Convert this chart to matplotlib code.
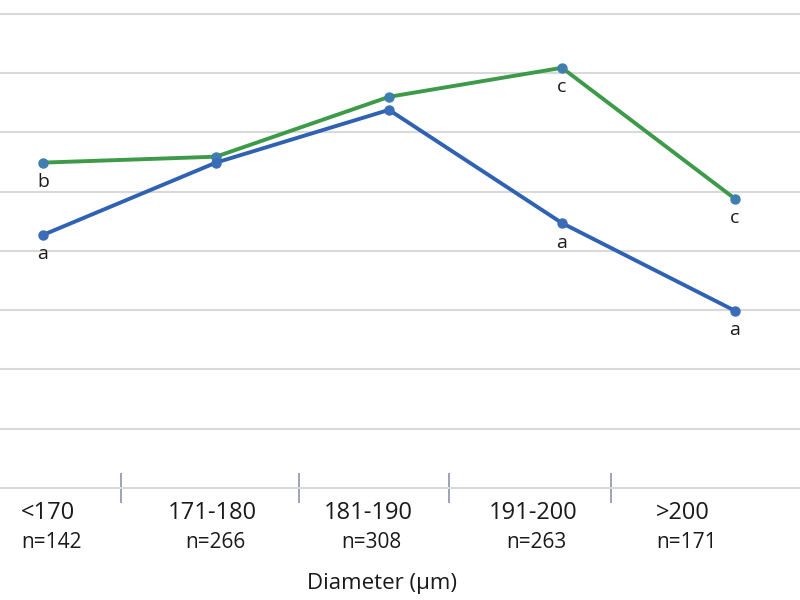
import matplotlib.pyplot as plt

plt.rcParams['font.family'] = ['Open Sans', 'DejaVu Sans']

categories = ["<170", "171-180", "181-190", "191-200", ">200"]
counts = ["n=142", "n=266", "n=308", "n=263", "n=171"]
blue_vals = [4.27, 5.49, 6.38, 4.47, 2.99]
green_vals = [5.49, 5.59, 6.60, 7.09, 4.88]
# significance letters under each point
blue_letters = ["a", None, None, "a", "a"]
green_letters = ["b", None, None, "c", "c"]

fig = plt.figure(figsize=(8, 6), dpi=100)
ax = fig.add_axes([0, 112 / 600, 1, 486 / 600])

x = list(range(len(categories)))
ax.plot(x, blue_vals, color="#2f62b3", lw=2.8, marker="o", ms=6.5,
        mfc="#3b6cb8", mec="#3b6cb8", zorder=3)
ax.plot(x, green_vals, color="#3d9a48", lw=2.8, marker="o", ms=6.5,
        mfc="#3f7fae", mec="#3f7fae", zorder=2)

for i in x:
    if blue_letters[i]:
        ax.annotate(blue_letters[i], (i, blue_vals[i]), xytext=(0, -14),
                    textcoords="offset points", ha="center", va="center",
                    fontsize=14, color="#1a1a1a")
    if green_letters[i]:
        ax.annotate(green_letters[i], (i, green_vals[i]), xytext=(0, -14),
                    textcoords="offset points", ha="center", va="center",
                    fontsize=14, color="#1a1a1a")

ax.set_xlim(-43 / 173, 757 / 173)
ax.set_ylim(0, 8.2)
ax.set_yticks(range(1, 9))
ax.yaxis.grid(True, color="#d9d9d9", lw=1.5)
ax.set_axisbelow(True)
ax.tick_params(axis="y", left=False, labelleft=False)

for s in ["left", "right", "top"]:
    ax.spines[s].set_visible(False)
ax.spines["bottom"].set_color("#d9d9d9")
ax.spines["bottom"].set_linewidth(1.5)

# category labels sit a bit off the point positions in the source image
lab_pos = [0.03, 0.977, 1.88, 2.832, 3.70]
bnd_pos = [0.451, 1.48, 2.347, 3.283]
ax.set_xticks(bnd_pos)
ax.set_xticklabels([])
ax.tick_params(axis="x", direction="inout", length=21, width=1.2, color="#8a93a8")

trans = ax.get_xaxis_transform()
for i in x:
    ax.text(lab_pos[i], -25 / 486, categories[i], transform=trans,
            ha="center", va="center", fontsize=17, color="#1a1a1a")
    ax.text(lab_pos[i] + 0.02, -55 / 486, counts[i], transform=trans,
            ha="center", va="center", fontsize=15, color="#1a1a1a")

ax.text(0.477, -95 / 486, "Diameter (µm)", transform=ax.transAxes,
        ha="center", va="center", fontsize=16, color="#1a1a1a")

fig.savefig("out.png", dpi=100)
